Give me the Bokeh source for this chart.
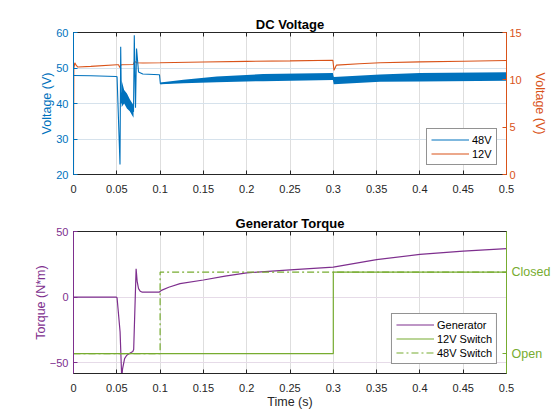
from bokeh.plotting import figure
from bokeh.models import (Range1d, LinearAxis, FixedTicker, CustomJSTickFormatter,
                          Legend, LegendItem, Title)
from bokeh.layouts import column
from bokeh.embed import file_html
from bokeh.resources import INLINE

BLUE = "#0072BD"
ORANGE = "#D95319"
PURPLE = "#7E2F8E"
GREEN = "#77AC30"
DARK = "#262626"
FONT = "Liberation Sans"

# ---------------- data: DC Voltage ----------------
t48 = [0, 0.02, 0.049, 0.0503, 0.0537, 0.0545, 0.0553, 0.0558, 0.0617, 0.0693,
       0.0702, 0.0716, 0.0728, 0.0751, 0.08, 0.0993, 0.1003, 0.127, 0.1655,
       0.219, 0.2995, 0.3005, 0.354, 0.4, 0.5]
v48 = [47.9, 47.8, 47.6, 47.5, 22.8, 56.0, 40.0, 43.0, 40.7, 37.7,
       59.2, 38.8, 55.5, 48.9, 48.3, 48.1, 45.6, 46.2, 46.8,
       47.3, 47.6, 46.5, 47.2, 47.4, 47.6]
# ripple envelope of the 48V signal
band1_t = [0.0556, 0.0585, 0.0617, 0.065, 0.0693]
band1_lo = [39.0, 40.0, 38.6, 37.8, 36.0]
band1_hi = [46.5, 43.8, 42.8, 41.2, 39.5]
band2_t = [0.1003, 0.127, 0.1655, 0.219, 0.2995, 0.3005, 0.354, 0.4, 0.5]
band2_lo = [45.4, 45.7, 46.0, 46.3, 46.6, 45.4, 46.1, 46.2, 46.4]
band2_hi = [45.9, 46.7, 47.6, 48.3, 48.6, 47.5, 48.2, 48.6, 48.8]

t12 = [0, 0.0004, 0.0015, 0.003, 0.005, 0.02, 0.05, 0.052, 0.0535, 0.055,
       0.069, 0.0705, 0.073, 0.08, 0.1, 0.15, 0.2, 0.25, 0.2995, 0.3008,
       0.3035, 0.33, 0.354, 0.4, 0.45, 0.5]
v12 = [0, 11.2, 11.8, 11.55, 11.35, 11.42, 11.6, 11.6, 11.3, 11.6,
       11.62, 11.95, 11.8, 11.78, 11.8, 11.88, 11.95, 12.0, 12.07, 11.0,
       11.55, 11.7, 11.8, 11.9, 11.97, 12.04]

# ---------------- data: Generator Torque ----------------
tq_t = [0, 0.0491, 0.0503, 0.0538, 0.0557, 0.0566, 0.059, 0.0615, 0.065,
        0.0685, 0.0695, 0.0723, 0.0735, 0.0751, 0.077, 0.079, 0.0992, 0.1015,
        0.11, 0.123, 0.15, 0.175, 0.2, 0.25, 0.3, 0.35, 0.4, 0.45, 0.5]
tq_v = [0, 0, -0.5, -26.6, -62, -55, -47, -44.4, -42.8,
        -41.5, -40.0, 21.6, 12, 6.4, 4.5, 3.8, 3.8, 5.1,
        7.5, 10.2, 13.0, 16.0, 18.5, 20.8, 22.8, 28.5, 32.5, 35.0, 36.9]

sw12_t = [0, 0.3, 0.3, 0.5]
sw12_v = [0, 0, 1, 1]
sw48_t = [0, 0.1, 0.1, 0.5]
sw48_v = [0, 0, 1, 1]

x_ticks = [0, 0.05, 0.1, 0.15, 0.2, 0.25, 0.3, 0.35, 0.4, 0.45, 0.5]
v_left_ticks = [20, 30, 40, 50, 60]
v_right_ticks = [0, 5, 10, 15]
tq_ticks = [-50, 0, 50]
sw_ticks = [0, 1]
sw_labels = ["Open", "Closed"]

xfmt = "return Number(tick.toFixed(2)).toString();"


def base_fig(height, top, bottom, title, yr):
    p = figure(width=560, height=height, output_backend="svg", toolbar_location=None,
               x_range=Range1d(0, 0.5), y_range=yr, tools="", title=None)
    p.min_border_left = 73
    p.min_border_right = 54
    p.min_border_top = top
    p.min_border_bottom = bottom
    p.outline_line_color = DARK
    p.outline_line_width = 1
    p.background_fill_color = "white"
    p.border_fill_color = "white"
    # top edge ticks (box)
    ax_top = LinearAxis(ticker=FixedTicker(ticks=x_ticks))
    ax_top.axis_line_color = DARK
    ax_top.major_tick_line_color = DARK
    ax_top.major_tick_in = 4
    ax_top.major_tick_out = 0
    ax_top.minor_tick_line_color = None
    ax_top.major_label_text_font_size = "0px"
    ax_top.major_label_text_alpha = 0
    ax_top.major_label_standoff = 0
    p.add_layout(ax_top, "above")
    t = Title(text=title, align="center", text_font=FONT, text_font_size="13px",
              text_font_style="bold", text_color="black", standoff=2)
    p.add_layout(t, "above")
    p.xgrid.grid_line_color = "#dedede"
    p.below[0].ticker = FixedTicker(ticks=x_ticks)
    p.below[0].formatter = CustomJSTickFormatter(code=xfmt)
    return p


def style_axis(ax, color, standoff, label=None, label_standoff=3):
    ax.axis_line_color = color
    ax.major_tick_line_color = color
    ax.major_label_text_color = color
    ax.major_tick_in = 4
    ax.major_tick_out = 0
    ax.minor_tick_line_color = None
    ax.major_label_text_font = FONT
    ax.major_label_text_font_size = "11px"
    ax.major_label_standoff = standoff
    if label is not None:
        ax.axis_label = label
        ax.axis_label_text_font = FONT
        ax.axis_label_text_font_size = "12.5px"
        ax.axis_label_text_font_style = "normal"
        ax.axis_label_text_color = color
        ax.axis_label_standoff = label_standoff


def style_legend(lg):
    lg.location = "bottom_right"
    lg.margin = 9
    lg.border_line_color = DARK
    lg.border_line_width = 0.8
    lg.background_fill_color = "white"
    lg.background_fill_alpha = 1
    lg.label_text_font = FONT
    lg.label_text_font_size = "11px"
    lg.label_text_color = "black"
    lg.glyph_width = 38
    lg.glyph_height = 13
    lg.label_height = 13
    lg.label_standoff = 3
    lg.padding = 4
    lg.spacing = 1


# ---------------- top figure ----------------
p1 = base_fig(204, 32, 30, "DC Voltage", Range1d(20, 60))
p1.extra_y_ranges = {"r": Range1d(0, 15)}
p1.ygrid.grid_line_color = "#d6e2ec"
style_axis(p1.below[0], DARK, 10)
p1.left[0].ticker = FixedTicker(ticks=v_left_ticks)
style_axis(p1.left[0], BLUE, 5, "Voltage (V)", -1)
ax_r1 = LinearAxis(y_range_name="r", ticker=FixedTicker(ticks=v_right_ticks))
style_axis(ax_r1, ORANGE, 3, "Voltage (V)", 8)
p1.add_layout(ax_r1, "right")

r12 = p1.line(t12, v12, line_color=ORANGE, line_width=1.1, y_range_name="r")
p1.varea(x=band1_t, y1=band1_lo, y2=band1_hi, fill_color=BLUE)
p1.varea(x=band2_t, y1=band2_lo, y2=band2_hi, fill_color=BLUE)
r48 = p1.line(t48, v48, line_color=BLUE, line_width=1.1)

lg1 = Legend(items=[LegendItem(label="48V", renderers=[r48]),
                    LegendItem(label="12V", renderers=[r12])])
style_legend(lg1)
p1.add_layout(lg1, "center")

# ---------------- bottom figure ----------------
p2 = base_fig(216, 27, 47, "Generator Torque", Range1d(-58.3, 50))
p2.extra_y_ranges = {"s": Range1d(-0.245, 1.5)}
p2.ygrid.grid_line_color = "#e6dbe8"
style_axis(p2.below[0], DARK, 10, "Time (s)", 0)
p2.below[0].axis_label_text_color = DARK
p2.left[0].ticker = FixedTicker(ticks=tq_ticks)
style_axis(p2.left[0], PURPLE, 5, "Torque (N*m)", -1)
ax_r2 = LinearAxis(y_range_name="s", ticker=FixedTicker(ticks=sw_ticks))
ax_r2.formatter = CustomJSTickFormatter(
    args=dict(labels=sw_labels),
    code="return tick == 0 ? labels[0] : (tick == 1 ? labels[1] : '');")
style_axis(ax_r2, GREEN, 5)
ax_r2.major_label_text_font_size = "12.5px"
p2.add_layout(ax_r2, "right")

rg = p2.line(tq_t, tq_v, line_color=PURPLE, line_width=1.2)
rs12 = p2.line(sw12_t, sw12_v, line_color=GREEN, line_width=1.2, y_range_name="s")
rs48 = p2.line(sw48_t, sw48_v, line_color=GREEN, line_width=1.2, line_dash="7 3 2 3",
               y_range_name="s")

lg2 = Legend(items=[LegendItem(label="Generator", renderers=[rg]),
                    LegendItem(label="12V Switch", renderers=[rs12]),
                    LegendItem(label="48V Switch", renderers=[rs48])])
style_legend(lg2)
p2.add_layout(lg2, "center")

layout = column(p1, p2, spacing=0)
open("out.html", "w").write(file_html(layout, INLINE))
